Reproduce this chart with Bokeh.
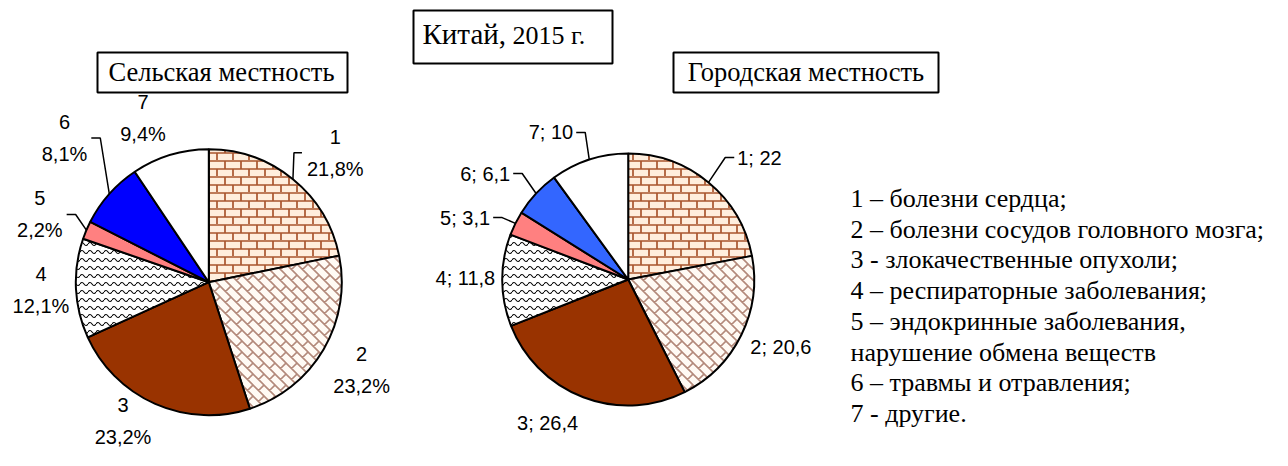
import base64
import numpy as np
from bokeh.plotting import figure
from bokeh.models import ColumnDataSource, Range1d, ImageURLTexture
from bokeh.core.properties import value
from bokeh.embed import file_html
from bokeh.resources import INLINE

# ---------------- data ----------------
categories = ["1", "2", "3", "4", "5", "6", "7"]
rural_values = [21.8, 23.2, 23.2, 12.1, 2.2, 8.1, 9.4]
urban_values = [22.0, 20.6, 26.4, 11.8, 3.1, 6.1, 10.0]
legend_lines = [
    "1 \u2013 болезни сердца;",
    "2 \u2013  болезни сосудов головного мозга;",
    "3 - злокачественные опухоли;",
    "4 \u2013 респираторные заболевания;",
    "5 \u2013 эндокринные заболевания,",
    "нарушение обмена веществ",
    "6 \u2013 травмы и отравления;",
    "7 - другие.",
]
title_main = "Китай,"
title_year = "2015 г."
rural_title = "Сельская местность"
urban_title = "Городская местность"

# ---------------- styles ----------------
SANS = "Liberation Sans"
SERIF = "Liberation Serif"
W, H = 1272, 450


def X(px):
    return px


def Y(py):
    return H - py


def uri(svg):
    return "data:image/svg+xml;base64," + base64.b64encode(svg.encode()).decode()


brick_svg = (
    "<svg xmlns='http://www.w3.org/2000/svg' width='16' height='16'>"
    "<rect width='16' height='16' fill='#FFEEDD'/>"
    "<path d='M0 1H16M0 9H16M1 1V9M9 9V17' stroke='#A9552E' stroke-width='1.7' fill='none'/>"
    "</svg>"
)

T = 11
L = T * np.sqrt(2)
h = L / 2
segs = []
for k in range(-5, 6):
    segs.append(f"M{-40} {k*h:.3f}H40")
    off = (k % 2) * L / 2
    for j in range(-4, 5):
        u = j * L + off
        segs.append(f"M{u:.3f} {k*h:.3f}V{(k+1)*h:.3f}")
dbrick_svg = (
    f"<svg xmlns='http://www.w3.org/2000/svg' width='{T}' height='{T}'>"
    f"<rect width='{T}' height='{T}' fill='#FFFAF4'/>"
    f"<g transform='rotate(45)'><path d='{''.join(segs)}' stroke='#B3897A' stroke-width='1.6' fill='none'/></g>"
    "</svg>"
)

wave_svg = (
    "<svg xmlns='http://www.w3.org/2000/svg' width='8' height='8'>"
    "<rect width='8' height='8' fill='#FFFFFF'/>"
    "<path d='M0 4 Q2 1 4 4 T8 4' stroke='#000000' stroke-width='1.1' fill='none'/>"
    "</svg>"
)

textures = {
    "brick": ImageURLTexture(url=uri(brick_svg)),
    "dbrick": ImageURLTexture(url=uri(dbrick_svg)),
    "wave": ImageURLTexture(url=uri(wave_svg)),
}
hatches = ["brick", "dbrick", " ", "wave", " ", " ", " "]
rural_fills = ["#FFEEDD", "#FFFAF4", "#993300", "#FFFFFF", "#FF8080", "#0000FF", "#FFFFFF"]
urban_fills = ["#FFEEDD", "#FFFAF4", "#993300", "#FFFFFF", "#FF8080", "#3366FF", "#FFFFFF"]

p = figure(width=W, height=H, x_range=Range1d(0, W), y_range=Range1d(0, H),
           output_backend="svg", toolbar_location=None, min_border=0)
p.axis.visible = False
p.grid.visible = False
p.outline_line_color = None
p.background_fill_color = "white"
p.border_fill_color = "white"


def arial_width(s, size):
    w = 0
    for ch in s:
        if ch.isdigit():
            w += 0.556
        elif ch in ",;. ":
            w += 0.278
        elif ch == "%":
            w += 0.889
        else:
            w += 0.6
    return w * size


def pie(values, fills, cx, cy, R):
    vals = np.array(values, dtype=float)
    cum = np.cumsum(vals) / vals.sum()
    prev = np.concatenate([[0], cum[:-1]])
    start = np.radians(90 - prev * 360)
    end = np.radians(90 - cum * 360)
    src = ColumnDataSource(dict(start=start, end=end, fill=fills, hatch=hatches, cat=categories))
    p.wedge(x=cx, y=cy, radius=R, start_angle="start", end_angle="end", direction="clock",
            source=src, fill_color="fill", line_color="black", line_width=2,
            hatch_pattern="hatch", hatch_extra=textures)
    return (start + end) / 2


def serif_text(x, y, s, size, align="left"):
    p.text(x=[x], y=[y], text=[s], text_font=value(SERIF), text_font_size=f"{size}px",
           text_align=align, text_baseline="middle", text_color="black")


LABEL_SIZE = 20

# ---------------- rural pie ----------------
rc = (X(208.3), Y(281.7))
rR = 133
rmid = pie(rural_values, rural_fills, rc[0], rc[1], rR)
r_lab_r = [181, 176, 163, 168, 182, 204, 177]
r_lab_nudge = [-5.1, 0.5, -8.0, -0.2, 1.2, -3.4, 4.9]
r_leader = [True, False, False, False, True, True, False]
rx, num_y, pct_y, pct_txt = [], [], [], []
lead_xs, lead_ys = [], []
for i, v in enumerate(rural_values):
    a = rmid[i] + np.radians(r_lab_nudge[i])
    lx = rc[0] + r_lab_r[i] * np.cos(a)
    ly = rc[1] + r_lab_r[i] * np.sin(a)
    pct = f"{v:.1f}".replace(".", ",") + "%"
    rx.append(lx)
    num_y.append(ly + 16)
    pct_y.append(ly - 16)
    pct_txt.append(pct)
    if r_leader[i]:
        hw = arial_width(pct, LABEL_SIZE) / 2
        ex = rc[0] + rR * np.cos(rmid[i])
        ey = rc[1] + rR * np.sin(rmid[i])
        if np.cos(a) > 0:
            s0 = lx - hw - 5
            s1 = s0 - 8
        else:
            s0 = lx + hw + 4
            s1 = s0 + 9
        lead_xs.append([s0, s1, ex])
        lead_ys.append([ly, ly, ey])

p.text(x=rx, y=num_y, text=categories, text_font=value(SANS), text_font_size=f"{LABEL_SIZE}px",
       text_align="center", text_baseline="middle", text_color="black")
p.text(x=rx, y=pct_y, text=pct_txt, text_font=value(SANS), text_font_size=f"{LABEL_SIZE}px",
       text_align="center", text_baseline="middle", text_color="black")

# ---------------- urban pie ----------------
uc = (X(627.7), Y(279))
uR = 126
umid = pie(urban_values, urban_fills, uc[0], uc[1], uR)
u_lab_r = [163.6, 139.7, 151.5, 133.0, 151.3, 158.6, 157.0]
u_lab_nudge = [-2.2, -2.8, 1.6, -0.8, 2.3, 1.1, 2.5]
u_leader = [True, False, False, False, True, True, True]
for i, v in enumerate(urban_values):
    a = umid[i] + np.radians(u_lab_nudge[i])
    lx = uc[0] + u_lab_r[i] * np.cos(a)
    ly = uc[1] + u_lab_r[i] * np.sin(a)
    vs = (f"{v:.1f}".rstrip("0").rstrip(".")).replace(".", ",")
    txt = f"{categories[i]}; {vs}"
    right = np.cos(a) > 0
    p.text(x=[lx], y=[ly], text=[txt], text_font=value(SANS), text_font_size=f"{LABEL_SIZE}px",
           text_align="left" if right else "right", text_baseline="middle", text_color="black")
    if u_leader[i]:
        ex = uc[0] + uR * np.cos(umid[i])
        ey = uc[1] + uR * np.sin(umid[i])
        if right:
            s0 = lx - 3
            s1 = s0 - 9
        else:
            s0 = lx + 3
            s1 = s0 + 9
        lead_xs.append([s0, s1, ex])
        lead_ys.append([ly, ly, ey])

p.multi_line(xs=lead_xs, ys=lead_ys, line_color="black", line_width=1.5)

# ---------------- titles ----------------
p.quad(left=[X(413), X(97), X(673)], right=[X(612), X(347), X(938)],
       top=[Y(10), Y(52), Y(52)], bottom=[Y(63), Y(92), Y(92)],
       fill_color="white", line_color="black", line_width=2)
serif_text(X(422), Y(33), title_main, 29)
serif_text(X(512), Y(34.5), title_year, 26)
serif_text(X(221), Y(71), rural_title, 26.5, "center")
serif_text(X(805.5), Y(71), urban_title, 26.5, "center")

# ---------------- legend text ----------------
c0 = 198
lsp = 30.7
for i, line in enumerate(legend_lines):
    serif_text(X(850), Y(c0 + i * lsp), line, 26)

open("out.html", "w").write(file_html(p, INLINE))
